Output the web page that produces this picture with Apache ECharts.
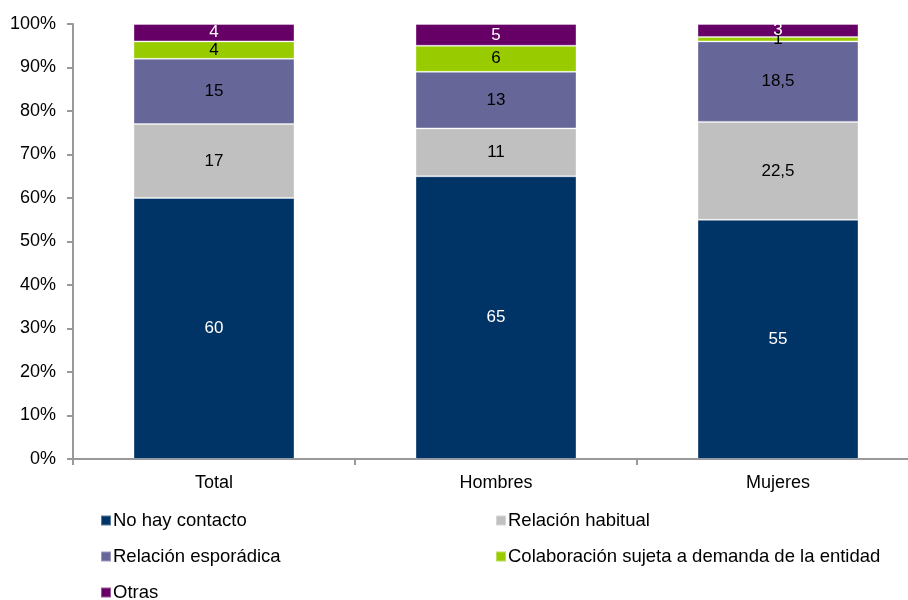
<!DOCTYPE html>
<html>
<head>
<meta charset="utf-8">
<script src="https://cdn.jsdelivr.net/npm/echarts@6/dist/echarts.min.js"></script>
<style>html,body{margin:0;padding:0;background:#fff;overflow:hidden;width:908px;height:600px}#c{width:919px;height:600px}</style>
</head>
<body>
<div id="c"></div>
<script>
const categories = ['Total', 'Hombres', 'Mujeres'];
const seriesNames = ['No hay contacto', 'Relación habitual', 'Relación esporádica', 'Colaboración sujeta a demanda de la entidad', 'Otras'];
const noHayContacto = [60, 65, 55];
const relacionHabitual = [17, 11, 22.5];
const relacionEsporadica = [15, 13, 18.5];
const colaboracion = [4, 6, 1];
const otras = [4, 5, 3];
const yTicks = [0, 10, 20, 30, 40, 50, 60, 70, 80, 90, 100];

const colors = ['#003366', '#C0C0C0', '#666699', '#99CC00', '#660066'];
const labelColors = ['#ffffff', '#000000', '#000000', '#000000', '#ffffff'];
const values = [noHayContacto, relacionHabitual, relacionEsporadica, colaboracion, otras];
const FONT = 'Liberation Sans, Arial, sans-serif';

const chart = echarts.init(document.getElementById('c'), null, {renderer: 'canvas'});

const series = seriesNames.map((name, i) => ({
  name: name,
  type: 'bar',
  stack: 'total',
  barWidth: 161,
  data: values[i],
  itemStyle: {color: colors[i], borderColor: 'rgba(255,255,255,0.35)', borderWidth: 1},
  label: {
    show: true,
    position: 'inside',
    color: labelColors[i],
    fontFamily: FONT,
    fontSize: 17,
    formatter: p => String(p.value).replace('.', ',')
  },
  emphasis: {disabled: true}
}));

const legendPos = [
  {left: 100, top: 511},
  {left: 495, top: 511},
  {left: 100, top: 547},
  {left: 495, top: 547},
  {left: 100, top: 583}
];
const legends = seriesNames.map((n, i) => ({
  data: [n],
  left: legendPos[i].left,
  top: legendPos[i].top,
  icon: 'rect',
  itemWidth: 10,
  itemHeight: 10,
  itemGap: 0,
  padding: 0,
  selectedMode: false,
  textStyle: {fontFamily: FONT, fontSize: 18.5, color: '#000', padding: [0, 0, 0, -3]}
}));

chart.setOption({
  animation: false,
  color: colors,
  grid: {left: 73, right: 0, top: 24, bottom: 141, containLabel: false},
  legend: legends,
  xAxis: {
    type: 'category',
    data: categories,
    axisLine: {lineStyle: {color: '#999999', width: 2}},
    axisTick: {show: true, length: 6, lineStyle: {color: '#999999', width: 2}},
    axisLabel: {fontFamily: FONT, fontSize: 18, color: '#000', margin: 15},
    splitLine: {show: false}
  },
  yAxis: {
    type: 'value',
    min: yTicks[0],
    max: yTicks[yTicks.length - 1],
    interval: 10,
    axisLine: {show: true, lineStyle: {color: '#999999', width: 2}},
    axisTick: {show: true, length: 6, inside: false, lineStyle: {color: '#999999', width: 2}},
    axisLabel: {fontFamily: FONT, fontSize: 18, color: '#000', margin: 17, formatter: '{value}%'},
    splitLine: {show: false}
  },
  series: series
});
</script>
</body>
</html>
